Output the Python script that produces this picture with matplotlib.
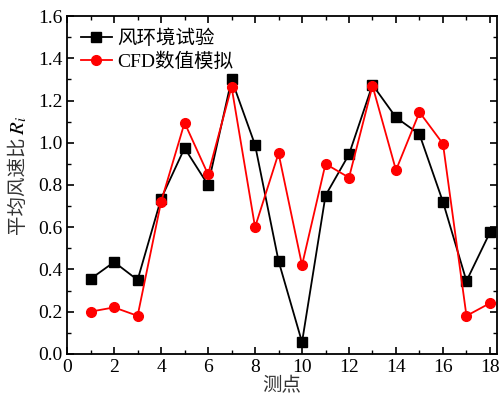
import numpy as np
import matplotlib.pyplot as plt
from matplotlib.ticker import MultipleLocator

plt.rcParams['font.family'] = ['Liberation Serif', 'Noto Sans CJK SC']
plt.rcParams['mathtext.fontset'] = 'stix'

points = np.arange(1, 19)
wind_tunnel = [0.355, 0.435, 0.35, 0.735, 0.975, 0.80, 1.30, 0.99, 0.44,
               0.055, 0.75, 0.945, 1.275, 1.12, 1.04, 0.72, 0.345, 0.575]
cfd = [0.20, 0.22, 0.18, 0.72, 1.095, 0.85, 1.265, 0.60, 0.95,
       0.42, 0.90, 0.835, 1.27, 0.87, 1.145, 0.995, 0.18, 0.24]

fig = plt.figure(figsize=(5.01, 4.03), dpi=100)
ax = fig.add_axes([0.134, 0.122, 0.858, 0.838])

ax.plot(points, wind_tunnel, '-s', color='black', markersize=6.5, lw=1.3, label='风环境试验')
ax.plot(points, cfd, '-o', color='red', markersize=7, lw=1.3, label='CFD数值模拟')

ax.set_xlim(0, 18.3)
ax.set_ylim(0, 1.6)
ax.xaxis.set_major_locator(MultipleLocator(2))
ax.xaxis.set_minor_locator(MultipleLocator(1))
ax.yaxis.set_major_locator(MultipleLocator(0.2))
ax.yaxis.set_minor_locator(MultipleLocator(0.1))
ax.yaxis.set_major_formatter(plt.FormatStrFormatter('%.1f'))
ax.tick_params(which='both', direction='in', top=True, right=True, labelsize=14)
ax.tick_params(which='major', length=5, width=1.2)
ax.tick_params(which='minor', length=3, width=1.0)
for s in ax.spines.values():
    s.set_linewidth(1.3)

ax.set_xlabel('测点', fontsize=14, color='#333333', labelpad=1)
ax.set_ylabel('平均风速比', fontsize=14, color='#333333')
ax.yaxis.set_label_coords(-0.093, 0.5)
# R_i part of the y label, appended after the Chinese text
ax.annotate('$R_i$', xy=(1, 1), xycoords=ax.yaxis.label, xytext=(-2, 1),
            textcoords='offset points', rotation=90, rotation_mode='anchor',
            ha='left', va='baseline', fontsize=15, color='black')

ax.legend(loc='upper left', frameon=False, fontsize=14, handlelength=1.6,
          handletextpad=0.3, labelspacing=0.2, borderaxespad=0.3)

fig.savefig('out.png', dpi=100)
